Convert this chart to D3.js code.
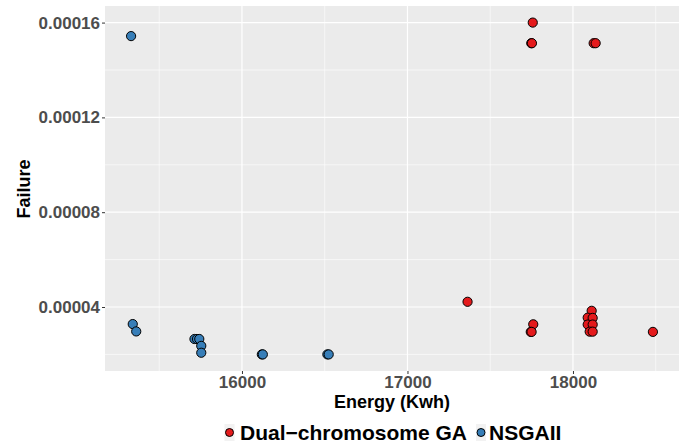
<!DOCTYPE html>
<html>
<head>
<meta charset="utf-8">
<script src="https://cdn.jsdelivr.net/npm/d3@7"></script>
<style>
html,body{margin:0;padding:0;background:#fff;}
svg{display:block;font-family:"Liberation Sans",Arial,Helvetica,sans-serif;}
</style>
</head>
<body>
<svg id="chart" width="697" height="444"></svg>
<script>
const seriesNames = ["Dual\u2212chromosome GA", "NSGAII"];
const seriesColors = ["#E41A1C", "#377EB8"];

const gaEnergy  = [17757, 17748, 17752, 18125, 18137, 17363, 17760, 17745, 17750, 18113, 18089, 18119, 18089, 18119, 18101, 18119, 18483];
const gaFailure = [0.00016, 0.0001513, 0.0001513, 0.0001513, 0.0001513, 0.0000422, 0.0000327, 0.0000295, 0.0000295, 0.0000384, 0.0000355, 0.0000354, 0.0000326, 0.0000326, 0.0000296, 0.0000296, 0.0000295];

const nsgaEnergy  = [15330, 15340, 15361, 15713, 15728, 15742, 15754, 15754, 16120, 16126, 16516, 16524];
const nsgaFailure = [0.0001543, 0.0000328, 0.0000297, 0.0000265, 0.0000265, 0.0000265, 0.0000236, 0.0000207, 0.00002, 0.00002, 0.00002, 0.00002];

const xTicks = [16000, 17000, 18000];
const xMinor = [15500, 16500, 17500, 18500];
const yTicks = [0.00004, 0.00008, 0.00012, 0.00016];
const yMinor = [0.00002, 0.00006, 0.00010, 0.00014];
const yTickLabels = ["0.00004", "0.00008", "0.00012", "0.00016"];

const svg = d3.select("#chart");
const P = {left: 105, right: 679, top: 6, bottom: 371};

const allX = gaEnergy.concat(nsgaEnergy);
const allY = gaFailure.concat(nsgaFailure);
const [x0, x1] = d3.extent(allX);
const [y0, y1] = d3.extent(allY);
const xe = (x1 - x0) * 0.05, ye = (y1 - y0) * 0.05;

const x = d3.scaleLinear().domain([x0 - xe, x1 + xe]).range([P.left, P.right]);
const y = d3.scaleLinear().domain([y0 - ye, y1 + ye]).range([P.bottom, P.top]);

// panel
svg.append("rect").attr("x", P.left).attr("y", P.top)
  .attr("width", P.right - P.left).attr("height", P.bottom - P.top).attr("fill", "#EBEBEB");

const grid = svg.append("g");
grid.selectAll(".xm").data(xMinor).join("line")
  .attr("x1", d => x(d)).attr("x2", d => x(d)).attr("y1", P.top).attr("y2", P.bottom)
  .attr("stroke", "#fff").attr("stroke-width", 0.6);
grid.selectAll(".ym").data(yMinor).join("line")
  .attr("y1", d => y(d)).attr("y2", d => y(d)).attr("x1", P.left).attr("x2", P.right)
  .attr("stroke", "#fff").attr("stroke-width", 0.6);
grid.selectAll(".xM").data(xTicks).join("line")
  .attr("x1", d => x(d)).attr("x2", d => x(d)).attr("y1", P.top).attr("y2", P.bottom)
  .attr("stroke", "#fff").attr("stroke-width", 1.2);
grid.selectAll(".yM").data(yTicks).join("line")
  .attr("y1", d => y(d)).attr("y2", d => y(d)).attr("x1", P.left).attr("x2", P.right)
  .attr("stroke", "#fff").attr("stroke-width", 1.2);

// axes
const xAxis = svg.append("g").attr("transform", `translate(0,${P.bottom})`)
  .call(d3.axisBottom(x).tickValues(xTicks).tickFormat(d3.format("d")).tickSize(3).tickPadding(2));
const yAxis = svg.append("g").attr("transform", `translate(${P.left},0)`)
  .call(d3.axisLeft(y).tickValues(yTicks).tickFormat((d, i) => yTickLabels[i]).tickSize(3).tickPadding(2));
[xAxis, yAxis].forEach(a => {
  a.select(".domain").remove();
  a.selectAll(".tick line").attr("stroke", "#333").attr("stroke-width", 1);
  a.selectAll(".tick text").attr("fill", "#4D4D4D").attr("font-size", "17px")
    .attr("font-weight", "bold").attr("font-family", "Liberation Sans, Arial, sans-serif");
});

// points
const gaData = gaEnergy.map((e, i) => ({e, f: gaFailure[i]}));
const nsData = nsgaEnergy.map((e, i) => ({e, f: nsgaFailure[i]}));
const pts = svg.append("g");
[[gaData, seriesColors[0]], [nsData, seriesColors[1]]].forEach(([data, col]) => {
  pts.append("g").selectAll("circle").data(data).join("circle")
    .attr("cx", d => x(d.e)).attr("cy", d => y(d.f)).attr("r", 4.6)
    .attr("fill", col).attr("stroke", "#000").attr("stroke-width", 1);
});

// axis titles
svg.append("text").attr("x", (P.left + P.right) / 2).attr("y", 408)
  .attr("text-anchor", "middle").attr("font-size", "18px").attr("font-weight", "bold")
  .attr("fill", "#000").text("Energy (Kwh)");
svg.append("text").attr("transform", "translate(30,189) rotate(-90)")
  .attr("text-anchor", "middle").attr("font-size", "18px").attr("font-weight", "bold")
  .attr("fill", "#000").text("Failure");

// legend
const leg = svg.append("g");
const legItems = [{name: seriesNames[0], col: seriesColors[0], cx: 229.5, tx: 240},
                  {name: seriesNames[1], col: seriesColors[1], cx: 481, tx: 489}];
legItems.forEach(it => {
  leg.append("rect").attr("x", it.cx - 5).attr("y", 424).attr("width", 10).attr("height", 17).attr("fill", "#F2F2F2");
  leg.append("circle").attr("cx", it.cx).attr("cy", 432.5).attr("r", 4)
    .attr("fill", it.col).attr("stroke", "#000").attr("stroke-width", 1);
  leg.append("text").attr("x", it.tx).attr("y", 440).attr("font-size", "21px").attr("font-weight", "bold")
    .attr("fill", "#000").text(it.name);
});
</script>
</body>
</html>
